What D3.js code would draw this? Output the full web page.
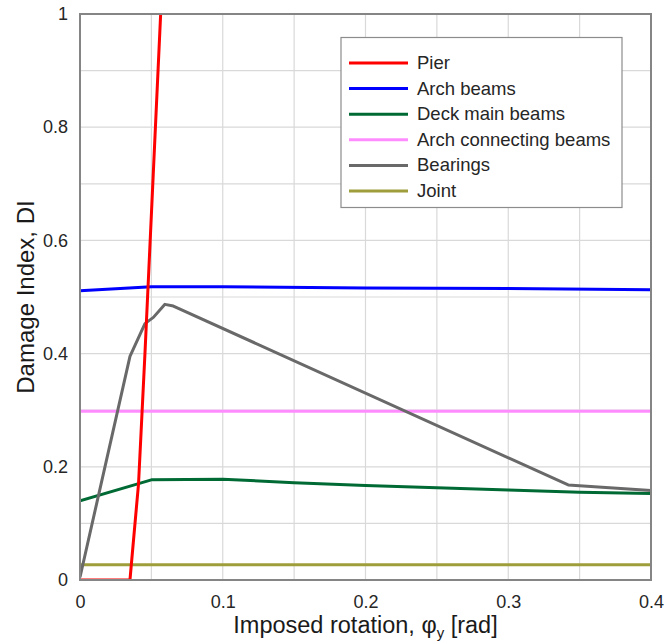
<!DOCTYPE html>
<html>
<head>
<meta charset="utf-8">
<script src="https://cdn.jsdelivr.net/npm/d3@7"></script>
<style>
  html, body { margin: 0; padding: 0; background: #fff; }
  svg { display: block; font-family: "Liberation Sans", Arial, sans-serif; }
</style>
</head>
<body>
<svg id="chart" width="665" height="642"></svg>
<script>
// Damage index vs imposed rotation for each bridge component
const pier       = [[0, 0], [0.035, 0], [0.041, 0.17], [0.0455, 0.4], [0.0565, 1]];
const archBeams  = [[0, 0.511], [0.05, 0.518], [0.1, 0.518], [0.2, 0.516], [0.3, 0.515], [0.4, 0.513]];
const deckBeams  = [[0, 0.14], [0.05, 0.177], [0.1, 0.178], [0.15, 0.172], [0.2, 0.167], [0.25, 0.163], [0.3, 0.159], [0.35, 0.155], [0.4, 0.153]];
const archConn   = [[0, 0.298], [0.4, 0.298]];
const bearings   = [[0, 0.005], [0.035, 0.395], [0.0455, 0.453], [0.0514, 0.464], [0.0595, 0.487], [0.0654, 0.484], [0.342, 0.168], [0.4, 0.158]];
const joint      = [[0, 0.027], [0.4, 0.027]];

const seriesNames  = ["Pier", "Arch beams", "Deck main beams", "Arch connecting beams", "Bearings", "Joint"];
const seriesData   = [pier, archBeams, deckBeams, archConn, bearings, joint];
const seriesColors = ["#ff0000", "#0000ff", "#006a35", "#ff8cff", "#696969", "#9e9e3c"];

const xTicks = [0, 0.1, 0.2, 0.3, 0.4];
const yTicks = [0, 0.2, 0.4, 0.6, 0.8, 1];
const xGrid = d3.range(0, 0.4001, 0.05);
const yGrid = d3.range(0, 1.0001, 0.1);

const svg = d3.select("#chart");
const margin = { left: 80, top: 14, right: 14, bottom: 62 };
const W = 665, H = 642;

const x = d3.scaleLinear().domain([0, 0.4]).range([margin.left, W - margin.right]);
const y = d3.scaleLinear().domain([0, 1]).range([H - margin.bottom, margin.top]);

// clip area for series
svg.append("defs").append("clipPath").attr("id", "plotClip")
  .append("rect")
  .attr("x", x(0)).attr("y", y(1) - 1)
  .attr("width", x(0.4) - x(0)).attr("height", y(0) - y(1) + 2);

// grid
const grid = svg.append("g");
grid.selectAll(".gx").data(xGrid).join("line")
  .attr("x1", d => x(d)).attr("x2", d => x(d))
  .attr("y1", y(0)).attr("y2", y(1))
  .attr("stroke", "#d9d9d9").attr("stroke-width", 1.2);
grid.selectAll(".gy").data(yGrid).join("line")
  .attr("x1", x(0)).attr("x2", x(0.4))
  .attr("y1", d => y(d)).attr("y2", d => y(d))
  .attr("stroke", "#d9d9d9").attr("stroke-width", 1.2);

// axes (tick labels only)
const xAxis = d3.axisBottom(x).tickValues(xTicks).tickFormat(d3.format("")).tickSize(0).tickPadding(15);
const yAxis = d3.axisLeft(y).tickValues(yTicks).tickFormat(d3.format("")).tickSize(0).tickPadding(12);

const gx = svg.append("g").attr("transform", `translate(0,${y(0)})`).call(xAxis);
const gy = svg.append("g").attr("transform", `translate(${x(0)},0)`).call(yAxis);
[gx, gy].forEach(g => {
  g.select(".domain").remove();
  g.selectAll("text").attr("font-size", 18).attr("fill", "#262626")
    .attr("font-family", "'Liberation Sans', Arial, sans-serif");
});

// series
const line = d3.line().x(d => x(d[0])).y(d => y(d[1]));
const plot = svg.append("g").attr("clip-path", "url(#plotClip)");
// draw order so the pier sits on top
const drawOrder = [5, 3, 2, 4, 1, 0];
drawOrder.forEach(i => {
  plot.append("path")
    .datum(seriesData[i])
    .attr("d", line)
    .attr("fill", "none")
    .attr("stroke", seriesColors[i])
    .attr("stroke-width", 3)
    .attr("stroke-linejoin", "round");
});

// plot frame
svg.append("rect")
  .attr("x", x(0)).attr("y", y(1))
  .attr("width", x(0.4) - x(0)).attr("height", y(0) - y(1))
  .attr("fill", "none").attr("stroke", "#858585").attr("stroke-width", 2);

// axis titles
svg.append("text")
  .attr("x", (x(0) + x(0.4)) / 2).attr("y", 633)
  .attr("text-anchor", "middle").attr("font-size", 23.5).attr("fill", "#1a1a1a")
  .call(t => {
    t.append("tspan").text("Imposed rotation, φ");
    t.append("tspan").attr("font-size", 15).attr("dy", 5).text("y");
    t.append("tspan").attr("dy", -5).text(" [rad]");
  });

svg.append("text")
  .attr("transform", `translate(34,${(y(0) + y(1)) / 2}) rotate(-90)`)
  .attr("text-anchor", "middle").attr("font-size", 24).attr("fill", "#1a1a1a")
  .text("Damage Index, DI");

// legend
const legend = svg.append("g");
legend.append("rect")
  .attr("x", 341).attr("y", 37.5).attr("width", 281).attr("height", 170)
  .attr("fill", "#fff").attr("stroke", "#8c8c8c").attr("stroke-width", 1.2);
seriesNames.forEach((name, i) => {
  const yy = 63 + i * 25.6;
  legend.append("line")
    .attr("x1", 349).attr("x2", 408).attr("y1", yy).attr("y2", yy)
    .attr("stroke", seriesColors[i]).attr("stroke-width", 3);
  legend.append("text")
    .attr("x", 417).attr("y", yy + 6)
    .attr("font-size", 18.5).attr("fill", "#262626")
    .text(name);
});
</script>
</body>
</html>
